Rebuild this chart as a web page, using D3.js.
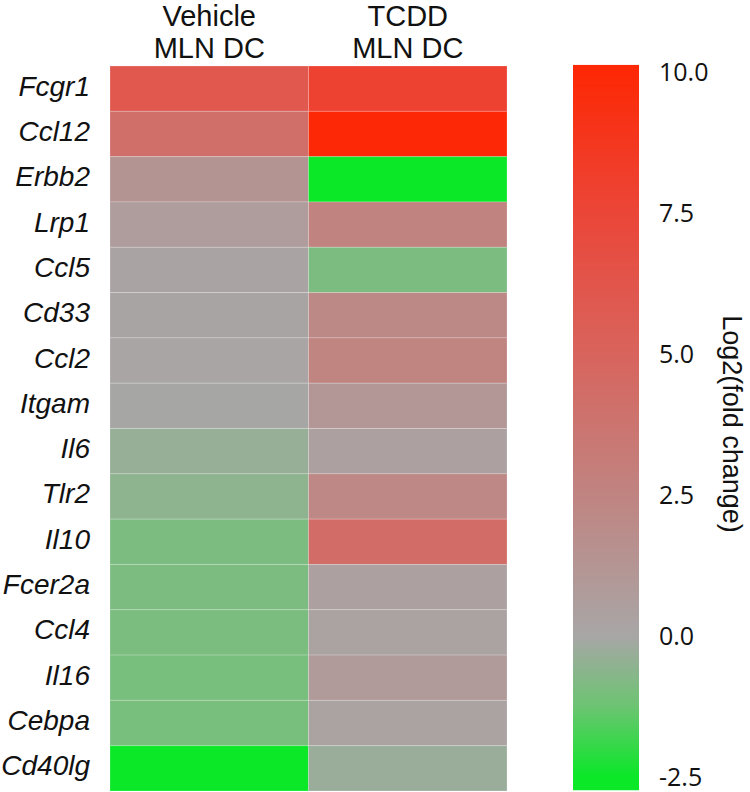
<!DOCTYPE html>
<html>
<head>
<meta charset="utf-8">
<script src="https://cdn.jsdelivr.net/npm/d3@7"></script>
<style>
  body { margin: 0; background: #fff; }
  .rowlab { font-family: "Liberation Sans", Arial, sans-serif; font-style: italic; font-size: 28px; fill: #111; }
  .collab { font-family: "Liberation Sans", Arial, sans-serif; font-size: 29px; fill: #111; }
  .tick { font-family: "Open Sans", sans-serif; font-size: 25px; fill: #111; }
  .ctitle { font-family: "Liberation Sans", Arial, sans-serif; font-size: 27px; fill: #111; }
</style>
</head>
<body>
<svg id="chart"></svg>
<script>
var genes = ["Fcgr1", "Ccl12", "Erbb2", "Lrp1", "Ccl5", "Cd33", "Ccl2", "Itgam",
             "Il6", "Tlr2", "Il10", "Fcer2a", "Ccl4", "Il16", "Cebpa", "Cd40lg"];
var conditions = ["Vehicle", "TCDD"];
var headerLines = [["Vehicle", "MLN DC"], ["TCDD", "MLN DC"]];

// log2 fold change
var vehicle = [6.0, 4.2, 1.3, 0.7, 0.2, 0.15, 0.1, -0.05,
               -0.35, -0.55, -0.9, -0.9, -0.95, -1.0, -1.0, -2.6];
var tcdd = [7.8, 10.0, -2.6, 2.6, -0.9, 2.1, 2.5, 1.1,
            0.4, 2.2, 4.4, 0.4, 0.25, 0.8, 0.3, -0.3];

var colorTicks = [10.0, 7.5, 5.0, 2.5, 0.0, -2.5];
var colorStops = [-2.5, -1.25, 0, 2.5, 5, 7.5, 10];
var colorRange = ["#0be828", "#6cc472", "#a8a6a6", "#c08481", "#d8645d", "#eb4638", "#fd2805"];
var barMin = -2.74, barMax = 10.12;

var width = 750, height = 792;
var svg = d3.select("svg#chart").attr("width", width).attr("height", height);

var color = d3.scaleLinear().domain(colorStops).range(colorRange).clamp(true);

var x = d3.scaleBand().domain(conditions).range([110, 507]);
var y = d3.scaleBand().domain(genes).range([66, 791]);

var cells = [];
genes.forEach(function(g, i) {
  cells.push({gene: g, cond: "Vehicle", v: vehicle[i]});
  cells.push({gene: g, cond: "TCDD", v: tcdd[i]});
});

svg.append("g").selectAll("rect")
  .data(cells)
  .enter()
  .append("rect")
  .attr("x", function(d) {return x(d.cond);})
  .attr("y", function(d) {return y(d.gene);})
  .attr("width", x.bandwidth())
  .attr("height", y.bandwidth())
  .style("fill", function(d) {return color(d.v);})
  .style("stroke", "rgba(255,255,255,0.2)")
  .style("stroke-width", 1);

// row labels
svg.append("g").selectAll("text")
  .data(genes)
  .enter()
  .append("text")
  .classed("rowlab", true)
  .attr("x", 90)
  .attr("y", function(d) {return y(d) + y.bandwidth() / 2 + 7;})
  .attr("text-anchor", "end")
  .text(function(d) {return d;});

// column headers
var heads = svg.append("g").selectAll("text")
  .data(headerLines)
  .enter()
  .append("text")
  .classed("collab", true)
  .attr("text-anchor", "middle");
heads.each(function(d, i) {
  var t = d3.select(this);
  var cx = x(conditions[i]) + x.bandwidth() / 2;
  d.forEach(function(line, k) {
    t.append("tspan").attr("x", cx).attr("y", 26 + k * 32).text(line);
  });
});

// colour bar
var cy = d3.scaleLinear().domain([-2.5, 10]).range([776.7, 71.7]);

var grad = svg.append("defs").append("linearGradient")
  .attr("id", "cbar")
  .attr("x1", 0).attr("y1", 1).attr("x2", 0).attr("y2", 0);
grad.selectAll("stop")
  .data(colorStops)
  .enter()
  .append("stop")
  .attr("offset", function(d) {return (d - barMin) / (barMax - barMin);})
  .attr("stop-color", function(d) {return color(d);});
grad.insert("stop", ":first-child").attr("offset", 0).attr("stop-color", color(barMin));
grad.append("stop").attr("offset", 1).attr("stop-color", color(barMax));

svg.append("rect")
  .attr("x", 573)
  .attr("y", cy(barMax))
  .attr("width", 66)
  .attr("height", cy(barMin) - cy(barMax))
  .style("fill", "url(#cbar)");

svg.append("g").selectAll("text")
  .data(colorTicks)
  .enter()
  .append("text")
  .classed("tick", true)
  .attr("x", 659)
  .attr("y", function(d) {return cy(d) + 9;})
  .text(function(d) {return d.toFixed(1);});

svg.append("text")
  .classed("ctitle", true)
  .attr("transform", "translate(723,424) rotate(90)")
  .attr("text-anchor", "middle")
  .text("Log2(fold change)");
</script>
</body>
</html>
